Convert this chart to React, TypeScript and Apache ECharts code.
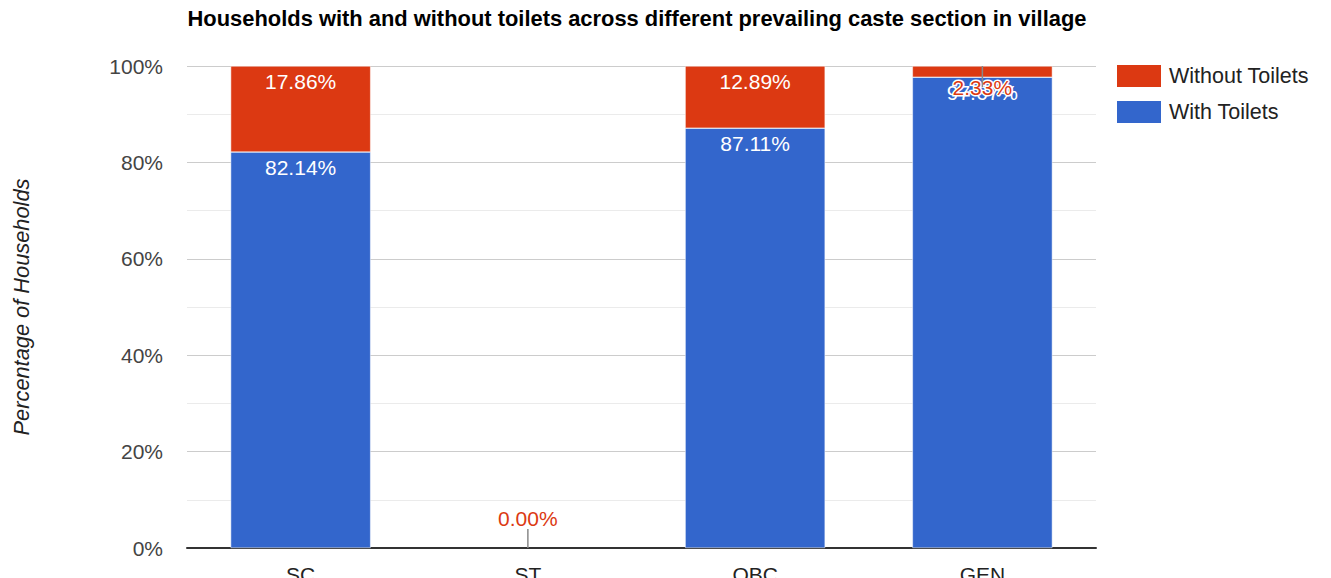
import React, { useEffect, useRef } from "react";
import * as echarts from "echarts";

const categories = ["SC", "ST", "OBC", "GEN"];
const withToilets = [82.14, 0, 87.11, 97.67];
const withoutToilets = [17.86, 0, 12.89, 2.33];
const yTicks = [0, 20, 40, 60, 80, 100];
const titleText =
  "Households with and without toilets across different prevailing caste section in village";

const FONT = "'Liberation Sans', Arial, sans-serif";
const BLUE = "#3366cc";
const RED = "#dc3912";
const FS = 21;

export default function App() {
  const ref = useRef<HTMLDivElement>(null);
  useEffect(() => {
    document.body.style.margin = "0";
    const chart = echarts.init(ref.current!, null, { renderer: "svg" });

    const redData = withoutToilets.map((v, i) => {
      const total = withToilets[i] + v;
      if (total === 0) {
        return {
          value: v,
          itemStyle: { borderWidth: 0 },
          label: {
            position: "top",
            distance: 19,
            color: RED,
          },
        };
      }
      if (v < 5) {
        return {
          value: v,
          label: {
            position: "insideTop",
            distance: 5,
            offset: [0, 6],
            color: RED,
            textBorderColor: "#fff",
            textBorderWidth: 3,
          },
        };
      }
      return { value: v };
    });

    const blueData = withToilets.map((v) =>
      v === 0
        ? { value: v, itemStyle: { borderWidth: 0 }, label: { show: false } }
        : { value: v }
    );

    const stemData = categories.map((c, i) => {
      const total = withToilets[i] + withoutToilets[i];
      const small = withoutToilets[i] < 5;
      return [i, total, total === 0 ? -1 : small ? 1 : 0];
    });

    chart.setOption({
      animation: false,
      textStyle: { fontFamily: FONT },
      title: {
        text: titleText,
        left: 637,
        textAlign: "center",
        top: 7,
        padding: 0,
        textStyle: {
          fontFamily: FONT,
          fontSize: 21.9,
          fontWeight: "bold",
          color: "#000",
        },
      },
      legend: {
        orient: "vertical",
        left: 1117,
        top: 65,
        padding: 0,
        itemWidth: 44,
        itemHeight: 22,
        itemGap: 14,
        icon: "rect",
        data: ["Without Toilets", "With Toilets"],
        textStyle: { fontFamily: FONT, fontSize: 21.5, color: "#222", padding: [0, 0, 0, 3] },
        itemStyle: { borderWidth: 0 },
      },
      grid: { left: 187, right: 235, top: 66, bottom: 30, containLabel: false, outerBoundsMode: "none" },
      xAxis: {
        type: "category",
        data: categories,
        axisLine: { lineStyle: { color: "#333", width: 2 } },
        axisTick: { show: false },
        axisLabel: { fontFamily: FONT, fontSize: FS, color: "#222", margin: 16 },
      },
      yAxis: {
        type: "value",
        min: yTicks[0],
        max: yTicks[yTicks.length - 1],
        interval: 20,
        name: "Percentage of Households",
        nameLocation: "middle",
        nameGap: 155,
        nameRotate: 90,
        nameTextStyle: {
          fontFamily: FONT,
          fontSize: 21.8,
          fontStyle: "italic",
          color: "#222",
        },
        axisLine: { show: false },
        axisTick: { show: false },
        axisLabel: {
          fontFamily: FONT,
          fontSize: FS,
          color: "#444",
          margin: 24,
          formatter: "{value}%",
        },
        splitLine: { lineStyle: { color: "#cccccc", width: 1 } },
        minorTick: { show: false, splitNumber: 2 },
        minorSplitLine: { show: true, lineStyle: { color: "#ebebeb", width: 1 } },
      },
      series: [
        {
          name: "With Toilets",
          type: "bar",
          stack: "total",
          barWidth: 140,
          data: blueData,
          itemStyle: { color: BLUE, borderColor: "#fff", borderWidth: 0.5 },
          label: {
            show: true,
            position: "insideTop",
            distance: 5,
            fontFamily: FONT,
            fontSize: FS,
            color: "#fff",
            formatter: (p: any) => p.value.toFixed(2) + "%",
          },
          z: 2,
        },
        {
          name: "Without Toilets",
          type: "bar",
          stack: "total",
          barWidth: 140,
          data: redData,
          itemStyle: { color: RED, borderColor: "#fff", borderWidth: 0.5 },
          label: {
            show: true,
            position: "insideTop",
            distance: 5,
            fontFamily: FONT,
            fontSize: FS,
            color: "#fff",
            formatter: (p: any) => p.value.toFixed(2) + "%",
          },
          z: 2,
        },
        {
          name: "stems",
          type: "custom",
          data: stemData,
          silent: true,
          z: 3,
          renderItem: (params: any, api: any) => {
            const dir = api.value(2);
            if (dir === 0) return null;
            const pt = api.coord([api.value(0), api.value(1)]);
            const len = dir < 0 ? 19 : 21;
            return {
              type: "line",
              shape: { x1: pt[0], y1: pt[1], x2: pt[0], y2: pt[1] + dir * len },
              style: { stroke: "#888", lineWidth: 1.5 },
            };
          },
        },
      ],
    });
    return () => chart.dispose();
  }, []);
  return <div ref={ref} style={{ width: 1331, height: 578 }} />;
}
